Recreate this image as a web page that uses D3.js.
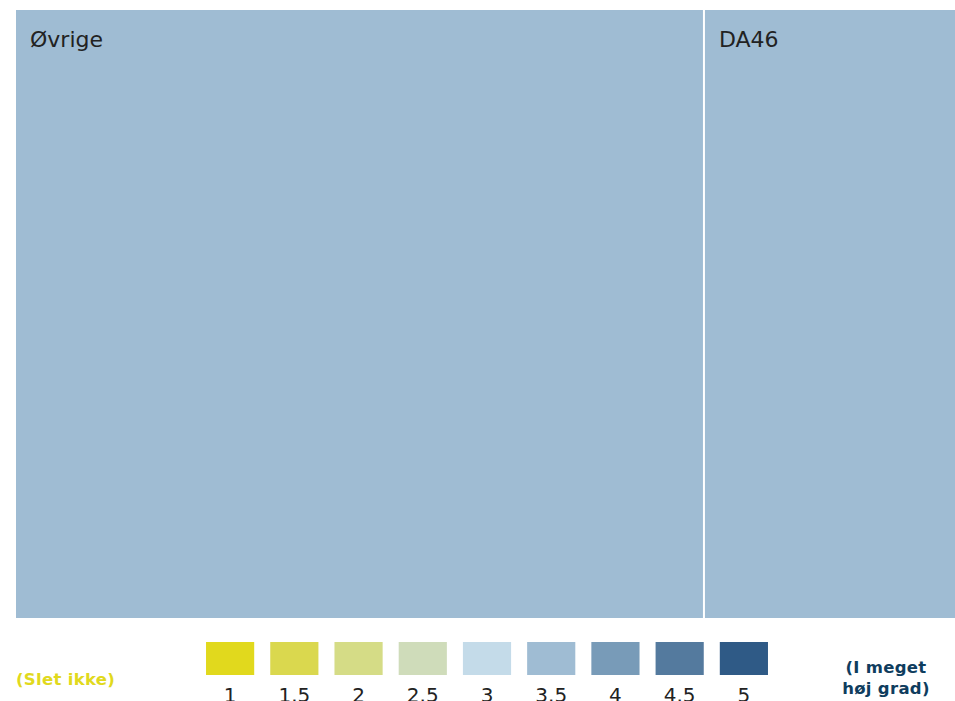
<!DOCTYPE html>
<html>
<head>
<meta charset="utf-8">
<script src="https://d3js.org/d3.v7.min.js"></script>
<style>
body { margin:0; background:#fff; }
svg { display:block; font-family:"DejaVu Sans", Verdana, sans-serif; }
</style>
</head>
<body>
<div id="chart"></div>
<script>
// treemap cells
var names = ["Øvrige", "DA46"];
var sizes = [41, 15];
var scores = [3.5, 3.5];

// legend
var legendValues = [1, 1.5, 2, 2.5, 3, 3.5, 4, 4.5, 5];
var legendLabels = ["1", "1.5", "2", "2.5", "3", "3.5", "4", "4.5", "5"];
var legendColors = ["#e1d91d", "#dad84e", "#d5dc86", "#cfdcba", "#c4dbe9", "#9fbcd3", "#789bb8", "#547a9e", "#2f5a86"];

var W = 955, H = 701;

var svg = d3.select("#chart").append("svg")
  .attr("width", W)
  .attr("height", H);

var color = d3.scaleOrdinal().domain(legendValues).range(legendColors);

var root = d3.hierarchy({children: names.map(function(n, i) {
    return {name: n, size: sizes[i], score: scores[i]};
  })})
  .sum(function(d) { return d.size || 0; });

d3.treemap()
  .tile(d3.treemapSliceDice)
  .size([939, 608])
  .paddingInner(2)(root);

var map = svg.append("g")
  .attr("transform", "translate(16,10)");

var cell = map.selectAll("g.cell")
  .data(root.leaves())
  .enter().append("g")
    .attr("class", "cell");

cell.append("rect")
  .attr("x", function(d) { return d.x0; })
  .attr("y", function(d) { return d.y0; })
  .attr("width", function(d) { return d.x1 - d.x0; })
  .attr("height", function(d) { return d.y1 - d.y0; })
  .style("fill", function(d) { return color(d.data.score); });

cell.append("text")
  .attr("x", function(d) { return d.x0 + 14; })
  .attr("y", function(d) { return d.y0 + 37; })
  .style("font-size", "22px")
  .style("fill", "#222")
  .text(function(d) { return d.data.name; });

// legend swatches
var lx = d3.scaleBand()
  .domain(legendLabels)
  .range([198, 776])
  .paddingInner(0.25)
  .paddingOuter(0.125);

var lg = svg.append("g");

lg.selectAll("rect")
  .data(legendLabels)
  .enter().append("rect")
    .attr("x", function(d) { return lx(d); })
    .attr("y", 642)
    .attr("width", lx.bandwidth())
    .attr("height", 33)
    .style("fill", function(d, i) { return legendColors[i]; });

lg.selectAll("text")
  .data(legendLabels)
  .enter().append("text")
    .attr("x", function(d) { return lx(d) + lx.bandwidth() / 2; })
    .attr("y", 702)
    .attr("text-anchor", "middle")
    .style("font-size", "20px")
    .style("fill", "#222")
    .text(function(d) { return d; });

svg.append("text")
  .attr("x", 16)
  .attr("y", 685)
  .style("font-size", "16.5px")
  .style("font-weight", "bold")
  .style("letter-spacing", "0.3px")
  .style("fill", "#e1d91d")
  .text("(Slet ikke)");

var hi = svg.append("text")
  .attr("x", 886)
  .attr("text-anchor", "middle")
  .style("font-size", "16.5px")
  .style("font-weight", "bold")
  .style("letter-spacing", "0.3px")
  .style("fill", "#0f3d5e");
hi.append("tspan").attr("x", 886).attr("y", 673).text("(I meget");
hi.append("tspan").attr("x", 886).attr("y", 694).text("høj grad)");
</script>
</body>
</html>
